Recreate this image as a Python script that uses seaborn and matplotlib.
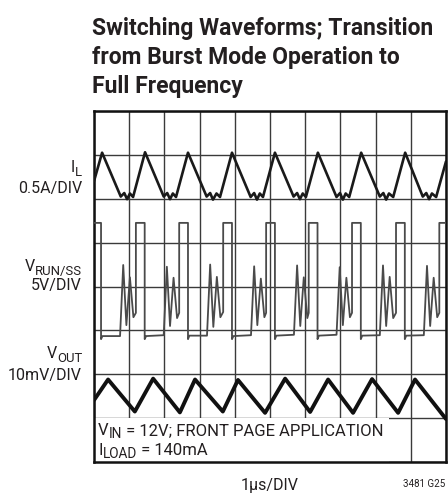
import matplotlib
matplotlib.use("Agg")
import matplotlib.pyplot as plt
import seaborn as sns
import pandas as pd
from matplotlib.patches import Rectangle

# ---------------- data (in scope divisions) ----------------
# Inductor current trace (0.5A/DIV), divisions 6..7
IL_T = [0.00, 0.23, 0.76, 0.86, 0.94, 1.02, 1.11, 1.45, 1.98, 2.08, 2.16, 2.24, 2.33,
        2.67, 3.20, 3.30, 3.38, 3.48, 3.58, 3.92, 4.45, 4.55, 4.63, 4.71, 4.80,
        5.14, 5.67, 5.77, 5.85, 5.93, 6.02, 6.36, 6.89, 6.99, 7.07, 7.15, 7.25,
        7.59, 8.12, 8.22, 8.30, 8.38, 8.50, 8.84, 9.34, 9.44, 9.52, 9.60, 9.72, 10.00]
IL_Y = [6.40, 7.05, 6.05, 6.13, 5.99, 6.12, 6.04, 7.06, 6.05, 6.13, 5.99, 6.12, 6.04,
        7.05, 6.05, 6.13, 5.98, 6.12, 6.04, 7.05, 6.04, 6.13, 5.98, 6.12, 6.04,
        7.05, 6.05, 6.13, 5.99, 6.12, 6.04, 7.05, 6.04, 6.13, 5.98, 6.12, 6.04,
        7.05, 6.05, 6.13, 5.98, 6.12, 6.04, 7.05, 6.05, 6.13, 5.99, 6.12, 6.04, 6.85]

# RUN/SS (switch) trace (5V/DIV), divisions ~2.9..5.45
SW_T = [0.00,
        0.20, 0.20, 0.24, 0.74, 0.83, 0.92, 1.02, 1.12, 1.19, 1.19,
        1.44, 1.44, 1.48, 1.98, 2.07, 2.16, 2.26, 2.36, 2.42, 2.42,
        2.67, 2.67, 2.71, 3.21, 3.30, 3.39, 3.49, 3.59, 3.67, 3.67,
        3.92, 3.92, 3.96, 4.46, 4.55, 4.64, 4.74, 4.84, 4.89, 4.89,
        5.14, 5.14, 5.18, 5.68, 5.77, 5.86, 5.96, 6.06, 6.10, 6.10,
        6.35, 6.35, 6.39, 6.89, 6.98, 7.07, 7.17, 7.27, 7.33, 7.33,
        7.58, 7.58, 7.62, 8.12, 8.21, 8.30, 8.40, 8.50, 8.58, 8.58,
        8.83, 8.83, 8.87, 9.37, 9.46, 9.55, 9.65, 9.75, 9.81, 9.81,
        10.00]
SW_Y = [5.45,
        5.45, 2.80, 2.87, 2.87, 4.49, 3.12, 4.21, 3.30, 3.40, 5.45,
        5.45, 2.80, 2.87, 2.89, 4.45, 3.10, 4.20, 3.28, 3.40, 5.45,
        5.45, 2.80, 2.88, 2.88, 4.50, 3.08, 4.22, 3.30, 3.42, 5.45,
        5.45, 2.80, 2.87, 2.89, 4.46, 3.12, 4.18, 3.30, 3.40, 5.45,
        5.45, 2.80, 2.88, 2.90, 4.48, 3.10, 4.21, 3.28, 3.40, 5.45,
        5.45, 2.80, 2.88, 2.90, 4.44, 3.12, 4.20, 3.30, 3.40, 5.45,
        5.45, 2.80, 2.88, 2.89, 4.48, 3.10, 4.22, 3.28, 3.40, 5.45,
        5.45, 2.80, 2.88, 2.89, 4.47, 3.10, 4.20, 3.30, 3.40, 5.45,
        5.45]

# Output voltage ripple (10mV/DIV), divisions ~1.1..1.9
VO_T = [0.00, 0.40, 1.16, 1.68, 2.44, 2.87, 3.66, 4.09, 4.86, 5.43, 6.14, 6.65,
        7.36, 7.90, 8.64, 9.12, 10.00]
VO_Y = [1.41, 1.88, 1.15, 1.90, 1.13, 1.88, 1.15, 1.87, 1.12, 1.90, 1.14, 1.88,
        1.12, 1.89, 1.12, 1.88, 0.98]

X_DIVS = list(range(0, 11))
Y_DIVS = list(range(0, 9))

TITLE_LINES = ["Switching Waveforms; Transition",
               "from Burst Mode Operation to",
               "Full Frequency"]

# ---------------- style ----------------
sns.set_theme(style="white")
plt.rcParams["font.family"] = ["Roboto", "DejaVu Sans"]

W, H = 448, 493
fig = plt.figure(figsize=(W / 100, H / 100), dpi=100)
fig.patch.set_facecolor("white")
L, R, T, B = 94, 446, 111, 462
ax = fig.add_axes([L / W, 1 - B / H, (R - L) / W, (B - T) / H])
ax.set_facecolor("white")

ax.set_xlim(0, 10)
ax.set_ylim(0, 8)
ax.set_xticks(X_DIVS)
ax.set_yticks(Y_DIVS)
ax.tick_params(length=0, labelbottom=False, labelleft=False)
ax.set_axisbelow(True)
ax.grid(True, color="#3a3a3a", linewidth=1.0)
for s in ax.spines.values():
    s.set_visible(True)
    s.set_color("#111111")
    s.set_linewidth(1.8)

# white box for the condition text (covers the grid)
ax.add_patch(Rectangle((0, 0), 8.38, 1.0, facecolor="white", edgecolor="none", zorder=1))

df_il = pd.DataFrame({"t": IL_T, "v": IL_Y})
df_sw = pd.DataFrame({"t": SW_T, "v": SW_Y})
df_vo = pd.DataFrame({"t": VO_T, "v": VO_Y})

sns.lineplot(data=df_sw, x="t", y="v", sort=False, estimator=None, ax=ax,
             color="#4a4a4a", linewidth=1.3, zorder=3)
sns.lineplot(data=df_il, x="t", y="v", sort=False, estimator=None, ax=ax,
             color="#1a1a1a", linewidth=1.9, zorder=3)
sns.lineplot(data=df_vo, x="t", y="v", sort=False, estimator=None, ax=ax,
             color="#111111", linewidth=2.8, zorder=3)
ax.set_xlabel("")
ax.set_ylabel("")

TXT = "#231f20"
renderer = fig.canvas.get_renderer()

def ft(x, y, s, **kw):
    return fig.text(x / W, 1 - y / H, s, color=TXT, **kw)

def width_px(t):
    return t.get_window_extent(renderer).width

SUB_SCALE = 0.82
SUB_DROP = 3.5

def sub_label_right(xr, y, main, sub, fs):
    # right-aligned: subscript placed first, main glyph to its left
    ts = ft(xr, y + SUB_DROP, sub, fontsize=fs * SUB_SCALE, ha="right", va="baseline")
    ws = width_px(ts)
    ft(xr - ws, y, main, fontsize=fs, ha="right", va="baseline")

def sub_label_left(xl, y, main, sub, rest, fs):
    tm = ft(xl, y, main, fontsize=fs, ha="left", va="baseline")
    x1 = xl + width_px(tm)
    ts = ft(x1, y + SUB_DROP, sub, fontsize=fs * SUB_SCALE, ha="left", va="baseline")
    x2 = x1 + width_px(ts)
    ft(x2, y, rest, fontsize=fs, ha="left", va="baseline")

# title
for i, line in enumerate(TITLE_LINES):
    ft(92, 35 + i * 29, line, fontsize=16.5, fontweight="bold", ha="left", va="baseline")

FS = 11.5
# channel labels
sub_label_right(82, 172, "I", "L", FS)
ft(82, 193, "0.5A/DIV", fontsize=FS, ha="right", va="baseline")
sub_label_right(82, 271, "V", "RUN/SS", FS)
ft(82, 290, "5V/DIV", fontsize=FS, ha="right", va="baseline")
sub_label_right(82, 358, "V", "OUT", FS)
ft(82, 380, "10mV/DIV", fontsize=FS, ha="right", va="baseline")

# condition text
FS2 = 12
sub_label_left(98, 435, "V", "IN", " = 12V; FRONT PAGE APPLICATION", FS2)
sub_label_left(98, 455, "I", "LOAD", " = 140mA", FS2)

# bottom
ft(270, 490, "1µs/DIV", fontsize=FS, ha="center", va="baseline")
ft(445, 487, "3481 G25", fontsize=7, ha="right", va="baseline")

fig.savefig("out.png", dpi=100, facecolor="white")
